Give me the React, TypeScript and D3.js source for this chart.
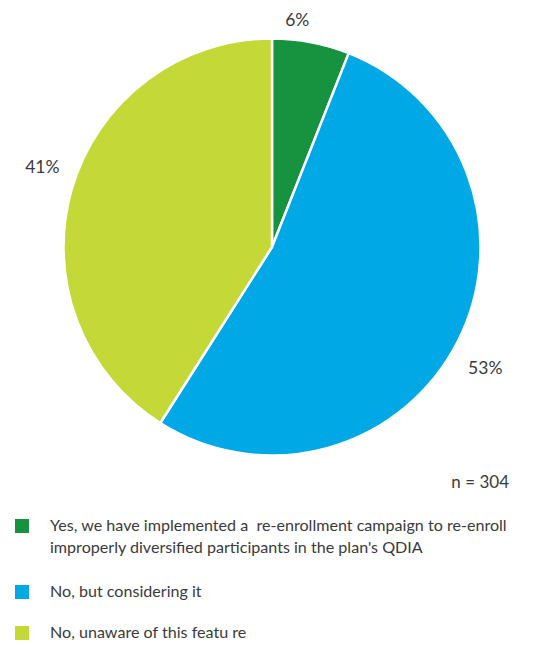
import React from "react";
import * as d3 from "d3";

const categories = [
  "Yes, we have implemented a  re-enrollment campaign to re-enroll|improperly diversified participants in the plan's QDIA",
  "No, but considering it",
  "No, unaware of this featu re",
];
const values = [6, 53, 41];
const valueLabels = ["6%", "53%", "41%"];
const colors = ["#17933f", "#00a9e6", "#c4d838"];
const sampleNote = "n = 304";

const W = 558;
const H = 645;
const cx = 272;
const cy = 247;
const R = 208.5;
const labelNudge = [
  [-19, 4],
  [3, 13],
  [-3, -15],
];
const legendBaseline = [531, 597, 638];

export default function App() {
  const pie = d3.pie<number>().sort(null).value((d) => d)(values);
  const arc = d3.arc<d3.PieArcDatum<number>>().innerRadius(0).outerRadius(R);
  const labelArc = d3.arc<d3.PieArcDatum<number>>().innerRadius(236).outerRadius(236);
  const font = "Lato, 'Open Sans', sans-serif";
  return (
    <svg
      width={W}
      height={H}
      style={{ position: "absolute", left: 0, top: 0, background: "#fff" }}
      fontFamily={font}
      fontWeight={400}
    >
      <g transform={`translate(${cx},${cy})`}>
        {pie.map((p, i) => (
          <path key={i} d={arc(p) || ""} fill={colors[i]} stroke="#fff" strokeWidth={2.5} strokeLinejoin="round" />
        ))}
        {pie.map((p, i) => {
          const [x, y] = labelArc.centroid(p);
          return (
            <text
              key={i}
              x={x + labelNudge[i][0]}
              y={y + labelNudge[i][1]}
              textAnchor="middle"
              dominantBaseline="central"
              fontSize={17.5}
              fill="#3a3a3a"
            >
              {valueLabels[i]}
            </text>
          );
        })}
      </g>
      <text x={509} y={488} textAnchor="end" fontSize={17} fill="#3a3a3a" style={{ whiteSpace: "pre" }}>
        {sampleNote}
      </text>
      {categories.map((c, i) => (
        <g key={i}>
          <rect x={15} y={legendBaseline[i] - 12} width={14} height={14} fill={colors[i]} />
          {c.split("|").map((line, j) => (
            <text
              key={j}
              x={50}
              y={legendBaseline[i] + j * 22}
              fontSize={16.1}
              fill="#3a3a3a"
              style={{ whiteSpace: "pre" }}
            >
              {line}
            </text>
          ))}
        </g>
      ))}
    </svg>
  );
}
